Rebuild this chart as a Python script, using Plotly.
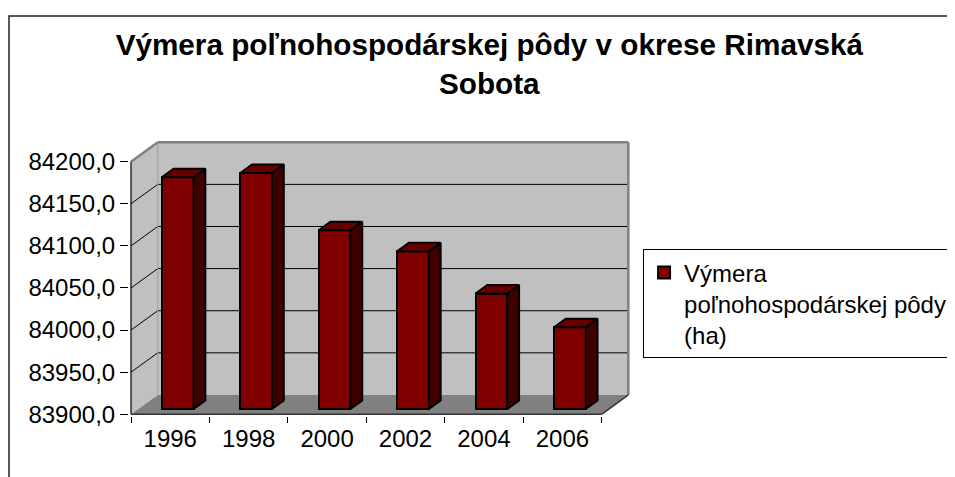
import plotly.graph_objects as go

# data
years = ["1996", "1998", "2000", "2002", "2004", "2006"]
area_ha = [84175.0, 84180.0, 84112.0, 84087.0, 84037.0, 83997.0]
y_ticks = [83900, 83950, 84000, 84050, 84100, 84150, 84200]

series_name = "Výmera<br>poľnohospodárskej pôdy<br>(ha)"
title_text = "<b>Výmera poľnohospodárskej pôdy v okrese Rimavská<br>Sobota</b>"

FONT = "Liberation Sans, Arial, sans-serif"
Y_MIN, Y_MAX = y_ticks[0], y_ticks[-1]
# fake 3D look (oblique projection): depth offset in data units
DX, DY = 0.341, 23.0
BAR_W = 0.405
D_FRONT, D_BACK = 0.28, 0.72

n = len(years)
fy = D_FRONT * DY
ddx = (D_BACK - D_FRONT) * DX
ddy = (D_BACK - D_FRONT) * DY
bar_x = [i + 0.5 + D_FRONT * DX for i in range(n)]
bar_base = Y_MIN + fy

fig = go.Figure()

# front faces of the columns
fig.add_trace(
    go.Bar(
        x=bar_x,
        y=[v - Y_MIN for v in area_ha],
        base=bar_base,
        width=BAR_W,
        name=series_name,
        marker=dict(color="#800000", line=dict(color="black", width=2)),
        showlegend=True,
    )
)

# top and side faces
top_x, top_y, side_x, side_y = [], [], [], []
for x, v in zip(bar_x, area_ha):
    xl, xr = x - BAR_W / 2, x + BAR_W / 2
    yt = v + fy
    top_x += [xl, xr, xr + ddx, xl + ddx, xl, None]
    top_y += [yt, yt, yt + ddy, yt + ddy, yt, None]
    side_x += [xr, xr, xr + ddx, xr + ddx, xr, None]
    side_y += [bar_base, yt, yt + ddy, bar_base + ddy, bar_base, None]

fig.add_trace(
    go.Scatter(
        x=side_x, y=side_y, mode="lines", fill="toself", fillcolor="#400000",
        line=dict(color="black", width=2), showlegend=False, hoverinfo="skip",
    )
)
fig.add_trace(
    go.Scatter(
        x=top_x, y=top_y, mode="lines", fill="toself", fillcolor="#660000",
        line=dict(color="black", width=2), showlegend=False, hoverinfo="skip",
    )
)

# walls, floor and grid (drawn below the columns)
shapes = []
xe = n + DX


def poly(pts, fill):
    path = "M " + " L ".join(f"{px},{py}" for px, py in pts) + " Z"
    return dict(type="path", path=path, xref="x", yref="y", layer="below",
                fillcolor=fill, line=dict(width=0))


def seg(x0, y0, x1, y1, color, lw):
    return dict(type="line", x0=x0, y0=y0, x1=x1, y1=y1, xref="x", yref="y",
                layer="below", line=dict(color=color, width=lw))


shapes.append(poly([(DX, Y_MIN + DY), (xe, Y_MIN + DY), (xe, Y_MAX + DY), (DX, Y_MAX + DY)], "#c0c0c0"))
shapes.append(poly([(0, Y_MIN), (DX, Y_MIN + DY), (DX, Y_MAX + DY), (0, Y_MAX)], "#c0c0c0"))
for v in y_ticks[1:-1]:
    shapes.append(seg(0, v, DX, v + DY, "black", 1))
    shapes.append(seg(DX, v + DY, xe, v + DY, "black", 1))
shapes.append(poly([(0, Y_MIN), (n, Y_MIN), (xe, Y_MIN + DY), (DX, Y_MIN + DY)], "#808080"))
# wall edges
shapes.append(seg(0, Y_MAX, DX, Y_MAX + DY, "#808080", 2.5))
shapes.append(seg(DX, Y_MAX + DY, xe, Y_MAX + DY, "#808080", 2.5))
shapes.append(seg(xe, Y_MIN + DY, xe, Y_MAX + DY, "#808080", 2.5))
shapes.append(seg(DX, Y_MIN + DY, DX, Y_MAX + DY, "#9a9a9a", 1))
# front axis edges
shapes.append(seg(0, Y_MIN, 0, Y_MAX, "black", 1.2))
shapes.append(seg(0, Y_MIN, n, Y_MIN, "#333333", 1.5))
shapes.append(seg(n, Y_MIN, xe, Y_MIN + DY, "#333333", 1.5))

# chart area border (right and bottom edges run off the picture)
shapes.append(dict(type="rect", xref="paper", yref="paper", x0=-0.239, y0=-0.6,
                   x1=2.0, y1=1.455, layer="below",
                   line=dict(color="#222222", width=1.5)))

fig.update_layout(
    width=955,
    height=477,
    margin=dict(l=121, r=332, t=133, b=69, autoexpand=False),
    paper_bgcolor="white",
    plot_bgcolor="rgba(0,0,0,0)",
    separators=",.",
    font=dict(family=FONT, size=24, color="black"),
    title=dict(
        text=title_text,
        font=dict(family=FONT, size=29.7, color="black"),
        x=0.504, xref="container", xanchor="center",
        y=0.901, yref="container", yanchor="top",
    ),
    shapes=shapes,
    showlegend=True,
    legend=dict(
        x=0.665, y=0.494, xref="container", yref="container",
        xanchor="left", yanchor="top",
        bgcolor="white", bordercolor="black", borderwidth=1,
        font=dict(family=FONT, size=24, color="black"),
        valign="top", itemwidth=30, entrywidth=340,
    ),
    bargap=0,
)

fig.update_xaxes(
    range=[-0.0255, 6.375],
    tickvals=[i + 0.5 for i in range(n)],
    ticktext=years,
    ticks="outside", ticklen=1, tickcolor="rgba(0,0,0,0)",
    minor=dict(tick0=0, dtick=1, ticks="outside", ticklen=6, tickcolor="black"),
    showgrid=False, zeroline=False, showline=False, automargin=False,
    tickfont=dict(family=FONT, size=24, color="black"),
    fixedrange=True,
)
fig.update_yaxes(
    range=[83898.0, 84224.5],
    tickvals=y_ticks,
    tickformat=".1f",
    ticks="outside", ticklen=8, tickcolor="black",
    showgrid=False, zeroline=False, showline=False, automargin=False,
    tickfont=dict(family=FONT, size=24, color="black"),
    fixedrange=True,
)

fig.write_html("out.html")
